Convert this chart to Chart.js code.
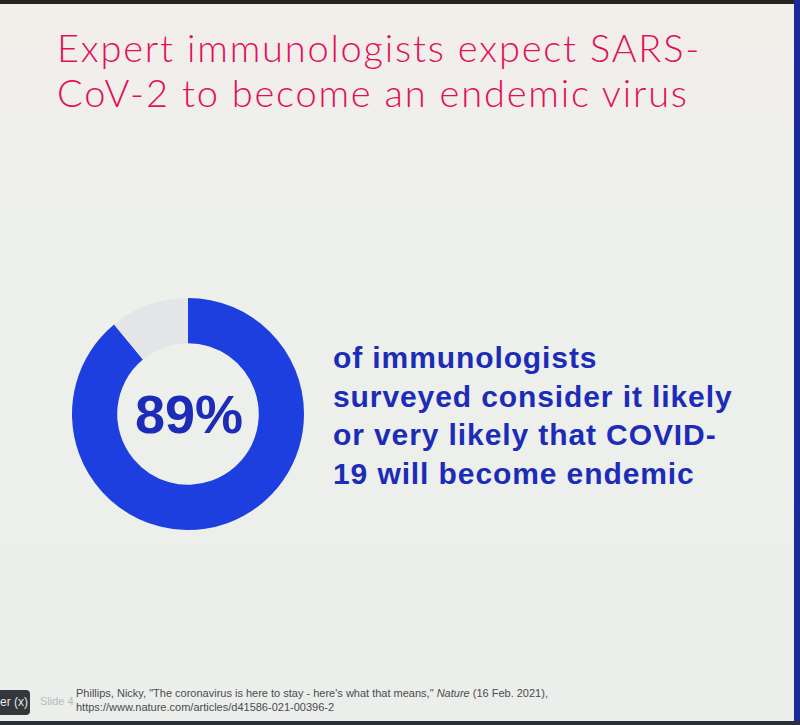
<!doctype html>
<html lang="en">
<head>
<meta charset="utf-8">
<title>Expert immunologists expect SARS-CoV-2 to become an endemic virus</title>
<script src="https://cdn.jsdelivr.net/npm/chart.js@4.4.1/dist/chart.umd.min.js"></script>
<style>
  html, body { margin: 0; padding: 0; }
  body {
    width: 800px; height: 725px; overflow: hidden; position: relative;
    background: linear-gradient(180deg, #f2eeea 0%, #eef0ec 30%, #ebeeea 100%);
    font-family: "Liberation Sans", Arial, sans-serif;
  }
  .topbar { position: absolute; left: 0; top: 0; width: 800px; height: 4px; background: #2a2220; }
  .rightbar { position: absolute; right: 0; top: 0; width: 6px; height: 725px; background: #1b2a9a; }
  .bottombar { position: absolute; left: 0; bottom: 0; width: 800px; height: 4px; background: #2b2f36; }
  h1 {
    position: absolute; left: 57px; top: 25px; margin: 0;
    font-family: "Lato", "DejaVu Sans", sans-serif; font-weight: 300;
    font-size: 38px; line-height: 45px; color: #e2105a; letter-spacing: 1.8px;
  }
  #wrap { position: absolute; left: 72px; top: 298px; width: 232px; height: 232px; }
  .blurb {
    position: absolute; left: 333px; top: 339px; margin: 0;
    font-weight: bold; font-size: 30px; line-height: 38.5px; color: #1c2cb8; letter-spacing: 0.9px;
  }
  .tag {
    position: absolute; left: 0; top: 690px; width: 30px; height: 25px;
    background: #33363a; color: #e8e8e8; font-size: 12px; line-height: 25px;
    border-radius: 0 4px 4px 0; text-align: right; padding-right: 2px; box-sizing: border-box;
  }
  .slide { position: absolute; left: 40px; top: 695px; font-size: 11px; color: #b8bcbc; }
  .ref { position: absolute; left: 76px; top: 686px; font-size: 11px; line-height: 14px; color: #4a4c50; }
</style>
</head>
<body>
<div class="topbar"></div>
<div class="rightbar"></div>
<div class="bottombar"></div>

<h1>Expert immunologists expect SARS-<br>CoV-2 to become an endemic virus</h1>

<div id="wrap"><canvas id="donut" width="232" height="232"></canvas></div>

<p class="blurb">of immunologists<br>surveyed consider it likely<br>or very likely that COVID-<br>19 will become endemic</p>

<div class="tag">er (x)</div>
<div class="slide">Slide 4</div>
<div class="ref">Phillips, Nicky, "The coronavirus is here to stay - here's what that means," <i>Nature</i> (16 Feb. 2021),<br>https://www.nature.com/articles/d41586-021-00396-2</div>

<script>
// survey share
var labels = ["Likely or very likely", "Other"];
var values = [89, 11];
var colors = ["#1e3fe0", "#e3e5e6"];

var centerText = {
  id: "centerText",
  afterDraw: function(chart) {
    var ctx = chart.ctx;
    var arc = chart.getDatasetMeta(0).data[0];
    ctx.save();
    ctx.fillStyle = "#1c2cb8";
    ctx.font = "bold 54px 'Liberation Sans', Arial, sans-serif";
    ctx.textAlign = "center";
    ctx.textBaseline = "middle";
    ctx.fillText(values[0] + "%", arc.x + 1, arc.y + 4);
    ctx.restore();
  }
};

new Chart(document.getElementById("donut").getContext("2d"), {
  type: "doughnut",
  data: {
    labels: labels,
    datasets: [{ data: values, backgroundColor: colors, borderWidth: 0 }]
  },
  options: {
    responsive: false,
    animation: false,
    cutout: "61%",
    plugins: { legend: { display: false }, tooltip: { enabled: false } }
  },
  plugins: [centerText]
});
</script>
</body>
</html>
